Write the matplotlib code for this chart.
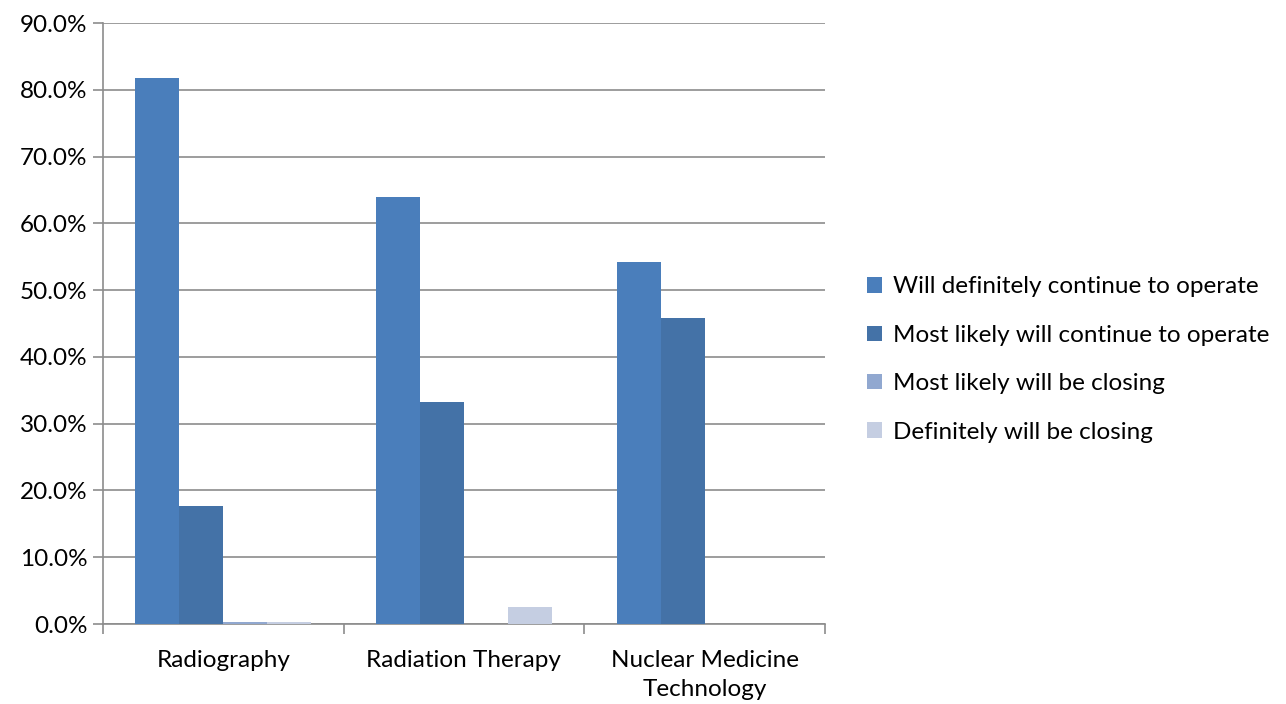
import numpy as np
import matplotlib.pyplot as plt
from matplotlib.ticker import PercentFormatter, FixedLocator

categories = ["Radiography", "Radiation Therapy", "Nuclear Medicine\nTechnology"]
series_names = [
    "Will definitely continue to operate",
    "Most likely will continue to operate",
    "Most likely will be closing",
    "Definitely will be closing",
]
will_definitely = [81.7, 64.0, 54.2]
most_likely_continue = [17.6, 33.3, 45.8]
most_likely_closing = [0.3, 0.0, 0.0]
definitely_closing = [0.3, 2.6, 0.0]
colors = ["#4A7EBB", "#4472A7", "#91A8D0", "#C5CEE2"]

plt.rcParams['font.family'] = ['Lato', 'DejaVu Sans']

fig = plt.figure(figsize=(12.86, 7.04), dpi=100)
ax = fig.add_axes([0.080, 0.1136, 0.5615, 0.8537])

x = np.arange(len(categories))
w = 0.183
all_series = [will_definitely, most_likely_continue, most_likely_closing, definitely_closing]
for i, (vals, name, c) in enumerate(zip(all_series, series_names, colors)):
    ax.bar(x + (i - 1.5) * w, vals, width=w, color=c, label=name, zorder=3)

ax.set_xlim(-0.5, 2.5)
ax.set_ylim(0, 90)
ax.set_yticks(np.arange(0, 91, 10))
ax.yaxis.set_major_formatter(PercentFormatter(decimals=1))
ax.yaxis.grid(True, color="#8c8c8c", linewidth=1.2, zorder=0)

ax.set_xticks(x)
ax.set_xticklabels(categories, linespacing=1.42)
ax.xaxis.set_minor_locator(FixedLocator([-0.5, 0.5, 1.5, 2.5]))
ax.tick_params(axis="x", which="major", length=0, pad=19, labelsize=17.5)
ax.tick_params(axis="x", which="minor", length=7, color="#8c8c8c", width=1.2)
ax.tick_params(axis="y", length=7, color="#8c8c8c", width=1.2, labelsize=17.5, pad=4)

for s in ["top", "right"]:
    ax.spines[s].set_visible(False)
for s in ["left", "bottom"]:
    ax.spines[s].set_color("#8c8c8c")
    ax.spines[s].set_linewidth(1.2)

ax.legend(loc="center left", bbox_to_anchor=(1.028, 0.44), frameon=False,
          fontsize=17.5, handlelength=0.6, handleheight=0.6, handletextpad=0.45,
          labelspacing=1.13)

fig.savefig("out.png", dpi=100)
